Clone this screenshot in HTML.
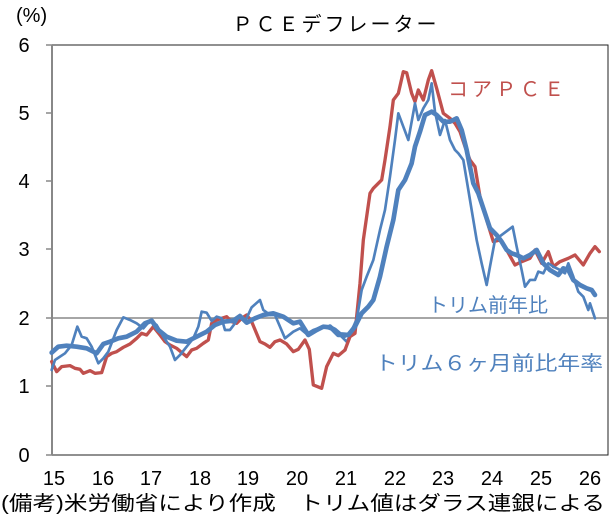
<!DOCTYPE html>
<html><head><meta charset="utf-8"><style>
body{margin:0;background:#fff;}
svg{display:block;font-family:"Liberation Sans","Noto Sans CJK JP",sans-serif;}
</style></head><body>
<svg width="614" height="518" viewBox="0 0 614 518">
<rect x="0" y="0" width="614" height="518" fill="#fff"/>
<rect x="52" y="45" width="556" height="410" fill="none" stroke="#222" stroke-width="1"/>
<line x1="52" y1="45" x2="52" y2="455" stroke="#888" stroke-width="2"/>
<line x1="52" y1="318" x2="608" y2="318" stroke="#888" stroke-width="1.5"/>
<g stroke="#888" stroke-width="1.5">
<line x1="46" y1="45" x2="52" y2="45"/><line x1="46" y1="113" x2="52" y2="113"/>
<line x1="46" y1="181" x2="52" y2="181"/><line x1="46" y1="249" x2="52" y2="249"/>
<line x1="46" y1="318" x2="52" y2="318"/><line x1="46" y1="386" x2="52" y2="386"/>
<line x1="46" y1="455" x2="52" y2="455"/>
</g>
<g font-size="20" fill="#000" text-anchor="middle">
<text x="24" y="52">6</text><text x="24" y="120">5</text><text x="24" y="188">4</text>
<text x="24" y="256">3</text><text x="24" y="325">2</text><text x="24" y="393">1</text>
<text x="24" y="462">0</text>
</g>
<g font-size="20" fill="#000" text-anchor="middle">
<text x="54" y="485">15</text><text x="103" y="485">16</text><text x="151" y="485">17</text>
<text x="200" y="485">18</text><text x="248" y="485">19</text><text x="297" y="485">20</text>
<text x="346" y="485">21</text><text x="395" y="485">22</text><text x="443" y="485">23</text>
<text x="492" y="485">24</text><text x="541" y="485">25</text><text x="590" y="485">26</text>
</g>
<text x="16" y="22" font-size="20" fill="#000">(%)</text>
<text x="336" y="31" font-size="20" fill="#000" text-anchor="middle" letter-spacing="3">ＰＣＥデフレーター</text>
<text x="1" y="510" font-size="20" fill="#000" textLength="604" lengthAdjust="spacingAndGlyphs">(備考)米労働省により作成　トリム値はダラス連銀による</text>
<text x="448" y="96" font-size="20" fill="#c0504d" letter-spacing="4">コアＰＣＥ</text>
<text x="428" y="312" font-size="20" fill="#4f81bd">トリム前年比</text>
<text x="375" y="370" font-size="20" fill="#4f81bd" textLength="228" lengthAdjust="spacingAndGlyphs">トリム６ヶ月前比年率</text>

<g transform="translate(40,190) scale(0.3333)" fill="none" stroke-linejoin="round" stroke-linecap="round">
<polyline stroke="#c0504d" stroke-width="10" points="35,515 50,545 65,530 90,527 105,535 120,538 130,550 150,542 165,550 185,548 200,500 215,490 230,485 250,472 270,462 290,445 305,430 320,435 340,410 360,435 375,455 390,465 410,475 440,500 455,480 470,475 490,460 505,450 515,400 530,390 545,385 560,380 575,395 590,400 605,385 620,375 635,395 660,455 675,462 690,472 705,455 720,450 740,462 760,485 775,478 795,450 808,478 820,585 845,595 860,530 880,490 895,497 915,480"/>
<polyline stroke="#4f81bd" stroke-width="8" points="35,540 45,510 60,500 75,490 95,465 112,410 125,440 140,445 155,470 175,520 190,505 205,485 230,420 250,382 270,390 290,400 310,415 330,392 350,405 370,440 390,470 405,510 420,495 440,470 460,445 475,410 485,365 500,368 515,393 530,380 545,385 555,420 570,420 585,400 600,375 615,395 635,352 660,330 670,360 690,375 705,375 720,410 735,445 760,425 780,415 800,432 820,420 850,410 880,420 900,435 920,455 940,420 958,375"/>
<polyline stroke="#4f81bd" stroke-width="14" points="35,488 55,470 80,467 110,470 140,475 170,490 190,462 210,455 235,445 260,440 290,425 315,400 335,392 355,420 380,440 410,452 440,455 470,440 500,425 525,405 550,395 580,392 600,378 620,398 645,385 670,375 700,370 730,380 760,400 780,395 805,435 830,420 850,410 870,412 885,420 900,433 925,435 940,420 958,375"/>
</g>
<g transform="translate(330,50) scale(0.3333)" fill="none" stroke-linejoin="round" stroke-linecap="round">
<polyline stroke="#c0504d" stroke-width="10" points="45,900 60,860 75,850 90,700 100,570 120,430 130,415 155,390 165,330 180,230 190,150 205,130 220,65 230,68 245,130 255,155 265,120 280,150 295,90 305,62 320,115 340,190 360,205 375,220 390,245 405,290 420,330 435,350 450,440 470,510 490,575 510,570 530,600 555,645 575,635 600,625 615,600 635,640 655,605 670,650 690,635 715,625 735,615 760,645 780,610 795,590 808,605"/>
<polyline stroke="#4f81bd" stroke-width="8" points="0,830 20,850 45,860 65,840 80,810 95,720 110,680 130,630 150,540 165,480 180,380 195,270 205,190 220,230 235,270 255,160 265,210 280,175 295,150 305,100 315,185 330,255 345,210 360,270 375,300 385,310 400,330 410,390 425,480 440,570 455,640 470,705 480,650 495,570 515,555 548,530 560,590 575,660 585,710 600,690 615,690 625,665 640,670 655,640 670,650 690,660 705,670 715,640 730,680 745,725 760,740 775,780 780,760 795,805"/>
<polyline stroke="#4f81bd" stroke-width="14" points="0,830 25,855 55,855 75,830 95,790 115,770 130,750 150,680 170,590 190,510 205,420 225,390 245,340 255,290 270,245 285,195 305,185 320,195 340,215 360,215 380,205 395,240 410,300 430,400 445,430 465,490 480,535 500,555 515,575 530,600 545,610 560,615 580,625 600,615 620,600 640,640 660,660 685,675 700,655 715,660 730,690 750,705 770,715 785,720 795,735"/>
</g>
</svg>
</body></html>
